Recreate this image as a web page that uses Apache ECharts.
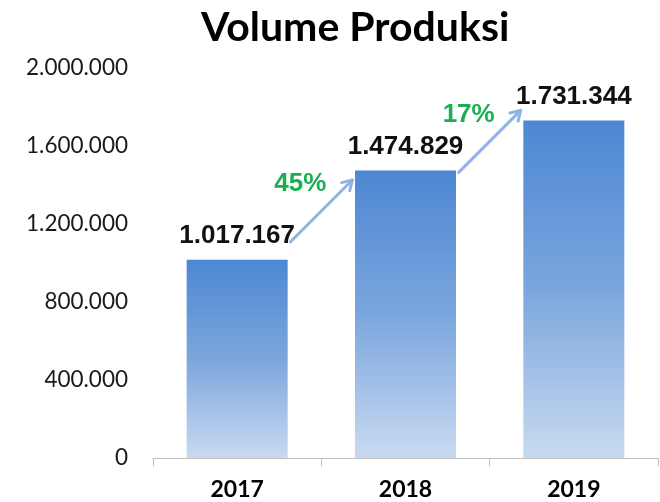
<!DOCTYPE html>
<html>
<head>
<meta charset="utf-8">
<script src="https://cdn.jsdelivr.net/npm/echarts@6/dist/echarts.min.js"></script>
<style>html,body{margin:0;padding:0;background:#fff}#c{width:660px;height:502px}</style>
</head>
<body>
<div id="c"></div>
<script>
var categories = ['2017', '2018', '2019'];
var volumes = [1017167, 1474829, 1731344];
var yTicks = [0, 400000, 800000, 1200000, 1600000, 2000000];
var growthPairs = [[0, 1], [1, 2]];

function fmt(v) {
  return String(v).replace(/\B(?=(\d{3})+(?!\d))/g, '.');
}

var chart = echarts.init(document.getElementById('c'));
chart.setOption({
  animation: false,
  backgroundColor: '#fff',
  title: {
    text: 'Volume Produksi',
    left: 196,
    top: 2,
    textStyle: { fontFamily: 'Lato', fontWeight: 'bold', fontSize: 41, color: '#000' }
  },
  grid: { left: 153, right: 2, top: 68, bottom: 44 },
  xAxis: {
    type: 'category',
    data: categories,
    axisLine: { lineStyle: { color: '#bfbfbf', width: 1 } },
    axisTick: { show: true, length: 8, lineStyle: { color: '#bfbfbf' } },
    axisLabel: { fontFamily: 'Lato', fontWeight: 'bold', fontSize: 23, color: '#000', margin: 20 }
  },
  yAxis: {
    type: 'value',
    min: yTicks[0],
    max: yTicks[yTicks.length - 1],
    interval: yTicks[1] - yTicks[0],
    splitLine: { show: false },
    axisLine: { show: false },
    axisTick: { show: false },
    axisLabel: {
      fontFamily: 'Lato', fontSize: 22.5, color: '#1a1a1a', margin: 25,
      formatter: function (v) { return fmt(v); }
    }
  },
  series: [
    {
      type: 'bar',
      data: volumes,
      barWidth: 101,
      itemStyle: {
        color: new echarts.graphic.LinearGradient(0, 0, 0, 1, [
          { offset: 0, color: '#4d87d3' },
          { offset: 0.5, color: '#7ba6dd' },
          { offset: 1, color: '#c8daf0' }
        ])
      },
      label: {
        show: true,
        position: 'top',
        distance: 11,
        fontFamily: 'Liberation Sans',
        fontWeight: 'bold',
        fontSize: 26,
        color: '#111',
        formatter: function (p) { return fmt(p.value); }
      }
    },
    {
      type: 'custom',
      data: growthPairs,
      z: 5,
      renderItem: function (params, api) {
        var a = api.value(0), b = api.value(1);
        var p0 = api.coord([a, volumes[a]]);
        var p1 = api.coord([b, volumes[b]]);
        var cx = (p0[0] + p1[0]) / 2;
        var cy = (p0[1] + p1[1]) / 2 - 4;
        var h = 31;
        var sx = cx - h, sy = cy + h, ex = cx + h, ey = cy - h;
        var ang = Math.atan2(ey - sy, ex - sx);
        var hl = 11, hw = 0.55;
        var l1 = [ex - hl * Math.cos(ang - hw), ey - hl * Math.sin(ang - hw)];
        var l2 = [ex - hl * Math.cos(ang + hw), ey - hl * Math.sin(ang + hw)];
        var pct = Math.round((volumes[b] / volumes[a] - 1) * 100) + '%';
        var stroke = { stroke: '#8fb4e3', lineWidth: 3, fill: null, lineCap: 'round', lineJoin: 'round' };
        return {
          type: 'group',
          children: [
            { type: 'line', shape: { x1: sx, y1: sy, x2: ex, y2: ey }, style: stroke },
            { type: 'polyline', shape: { points: [l1, [ex, ey], l2] }, style: stroke },
            {
              type: 'text',
              x: cx - 21, y: cy - 27,
              style: {
                text: pct, fill: '#1aaf50',
                font: 'bold 26px "Liberation Sans"',
                align: 'center', verticalAlign: 'middle'
              }
            }
          ]
        };
      }
    }
  ]
});
</script>
</body>
</html>
